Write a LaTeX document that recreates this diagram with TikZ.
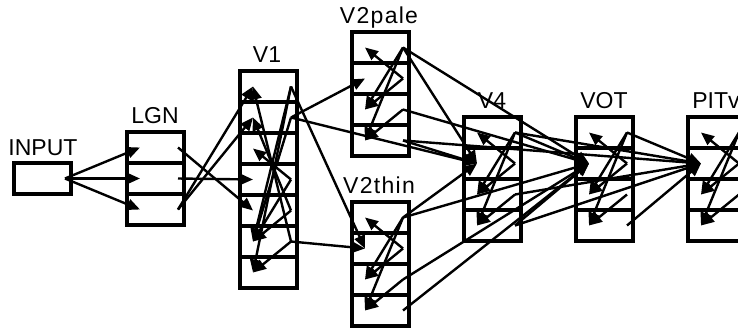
\documentclass[tikz,border=0pt]{standalone}
\usepackage{fontspec}
\setmainfont{Liberation Sans}
\usetikzlibrary{arrows.meta,calc}
\newcommand{\mkarea}[4]{%
  \foreach \r in {1,...,#4}{%
    \node[rowbox] (#1-\r) at ({#2+28.5},{#3+15.5+31*(\r-1)}) {};
    \coordinate (#1-\r-i) at ($(#1-\r.west)+(13,0)$);
    \coordinate (#1-\r-o) at ($(#1-\r.east)+(-6,0)$);
  }}
\newcommand{\lamina}[1]{%
  \draw[conn] (#1-2-o) -- (#1-1-i);
  \draw[conn] (#1-1-o) -- (#1-3-i);
  \draw[conn] (#1-2-o) -- (#1-3-i);
  \draw[conn] (#1-1-o) -- (#1-4-i);
  \draw[conn] (#1-3-o) -- (#1-4-i);}
\begin{document}
\begin{tikzpicture}[x=1pt,y=-1pt,
  rowbox/.style={draw,line width=3.2pt,minimum width=57pt,minimum height=31pt,inner sep=0pt,outer sep=0pt},
  conn/.style={line width=2.4pt,-{Triangle[length=13pt,width=11pt]}},
  lab/.style={font=\fontsize{23}{23}\selectfont,anchor=base,inner sep=0pt}]
\useasboundingbox (0,0) rectangle (738,330);
\clip (0,0) rectangle (738,330);
\mkarea{in}{14}{163}{1}
\mkarea{lgn}{127}{132}{3}
\mkarea{va}{240}{71}{7}
\mkarea{vp}{352}{32}{4}
\mkarea{vt}{352}{202}{4}
\mkarea{vf}{464}{117}{4}
\mkarea{vo}{576}{117}{4}
\mkarea{pi}{688}{117}{4}
\node[lab] (tIN) at (43,155) {INPUT};
\node[lab] (tLGN) at (155,123) {LGN};
\node[lab] (tV1) at (267,62) {V1};
\node[lab] (tV2p) at (379,23) {V\kern1.3pt 2\kern1.3pt p\kern1.3pt a\kern1.3pt l\kern1.3pt e};
\node[lab] (tV2t) at (379,193) {V\kern1.3pt 2\kern1.3pt t\kern1.3pt h\kern1.3pt i\kern1.3pt n};
\node[lab] (tV4) at (492,108) {V4};
\node[lab] (tVOT) at (604,108) {VOT};
\node[lab] (tPIT) at (716,108) {PITv};
% input -> LGN
\draw[conn] (in-1-o) -- (lgn-1-i);
\draw[conn] (in-1-o) -- (lgn-2-i);
\draw[conn] (in-1-o) -- (lgn-3-i);
% LGN -> V1
\draw[conn] (lgn-1-o) -- (va-5-i);
\draw[conn] (lgn-2-o) -- (va-4-i);
\draw[conn] (lgn-3-o) -- (va-1-i);
\draw[conn] (lgn-3-o) -- (va-2-i);
% V1 internal
\draw[conn] (va-6-o) -- (va-1-i);
\draw[conn] (va-5-o) -- (va-2-i);
\draw[conn] (va-4-o) -- (va-3-i);
\draw[conn] (va-1-o) -- (va-6-i);
\draw[conn] (va-1-o) -- (va-7-i);
\draw[conn] (va-2-o) -- (va-6-i);
\draw[conn] (va-4-o) -- (va-6-i);
\draw[conn] (va-5-o) -- (va-6-i);
\draw[conn] (va-6-o) -- (va-7-i);
% V1 out
\draw[conn] (va-1-o) -- (vt-2-i);
\draw[conn] (va-2-o) -- (vp-2-i);
\draw[conn] (va-2-o) -- (vf-2-i);
\draw[conn] (va-6-o) -- (vt-2-i);
% internal laminar
\lamina{vp}
\lamina{vt}
\lamina{vf}
\lamina{vo}
\lamina{pi}
% V2pale out
\draw[conn] (vp-1-o) -- (vf-2-i);
\draw[conn] (vp-1-o) -- (vo-2-i);
\draw[conn] (vp-3-o) -- (vo-2-i);
\draw[conn] (vp-4-o) -- (vf-2-i);
\draw[conn] (vp-4-o) -- (pi-2-i);
% V2thin out
\draw[conn] (vt-1-o) -- (vf-2-i);
\draw[conn] (vt-1-o) -- (vo-2-i);
\draw[conn] (vt-3-o) -- (vo-2-i);
\draw[conn] (vt-4-o) -- (vo-2-i);
% V4 out
\draw[conn] (vf-1-o) -- (vo-2-i);
\draw[conn] (vf-1-o) -- (pi-2-i);
\draw[conn] (vf-3-o) -- (pi-2-i);
\draw[conn] (vf-4-o) -- (vo-2-i);
\draw[conn] (vf-4-o) -- (pi-2-i);
% VOT out
\draw[conn] (vo-1-o) -- (pi-2-i);
\draw[conn] (vo-4-o) -- (pi-2-i);
\end{tikzpicture}
\end{document}
